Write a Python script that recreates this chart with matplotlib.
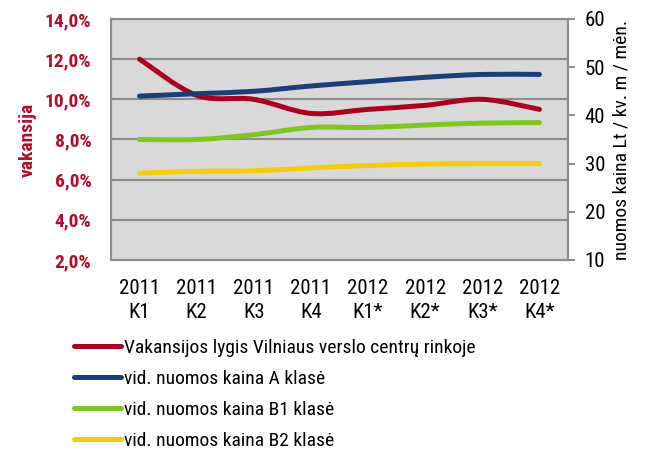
import matplotlib.pyplot as plt
import numpy as np
from matplotlib.path import Path
from matplotlib.patches import PathPatch
from matplotlib.lines import Line2D
from matplotlib import font_manager

years = ["2011", "2011", "2011", "2011", "2012", "2012", "2012", "2012"]
quarters = ["K1", "K2", "K3", "K4", "K1*", "K2*", "K3*", "K4*"]

vacancy = [12.0, 10.2, 10.0, 9.3, 9.5, 9.7, 10.0, 9.5]     # %, left axis
rent_a = [44.0, 44.5, 45.0, 46.1, 47.0, 47.9, 48.5, 48.5]  # Lt/kv.m, right axis
rent_b1 = [35.0, 35.0, 36.0, 37.5, 37.5, 38.0, 38.4, 38.5]
rent_b2 = [28.0, 28.4, 28.5, 29.1, 29.6, 29.9, 30.0, 30.0]

labels = ["Vakansijos lygis Vilniaus verslo centrų rinkoje",
          "vid. nuomos kaina A klasė",
          "vid. nuomos kaina B1 klasė",
          "vid. nuomos kaina B2 klasė"]
colors = ["#AA0022", "#1B3D7A", "#7DC623", "#F5CC0A"]

RED = "#B0102A"
LW = 3.6

# pick a narrow face (Arial Narrow look-alike) from what is installed
faces = {(f.name, int(f.weight) if str(f.weight).isdigit() else 400)
         for f in font_manager.fontManager.ttflist if f.style == "normal"}
cands = ["Arial Narrow", "Liberation Sans Narrow", "Nimbus Sans Narrow",
         "Roboto Condensed", "Archivo Narrow", "Asap Condensed"]
REG = next((c for c in cands if (c, 400) in faces), "DejaVu Sans")
BOLD = next((c for c in cands if (c, 700) in faces), "DejaVu Sans")


def smooth_patch(ax, xs, ys, color):
    # Excel-like smoothed line: cubic bezier through the points
    pts = np.column_stack([xs, ys]).astype(float)
    n = len(pts)
    verts = [pts[0]]
    codes = [Path.MOVETO]
    for i in range(n - 1):
        p0 = pts[max(i - 1, 0)]
        p1 = pts[i]
        p2 = pts[i + 1]
        p3 = pts[min(i + 2, n - 1)]
        verts += [p1 + (p2 - p0) / 6, p2 - (p3 - p1) / 6, p2]
        codes += [Path.CURVE4] * 3
    patch = PathPatch(Path(verts, codes), facecolor="none", edgecolor=color,
                      lw=LW, capstyle="round", joinstyle="round", zorder=3)
    ax.add_patch(patch)


fig = plt.figure(figsize=(6.49, 4.54), dpi=100)
ax = fig.add_axes([111 / 649, 1 - 260 / 454, 457 / 649, 241 / 454])
ax2 = ax.twinx()

x = np.arange(len(quarters))

ax.set_facecolor("#D9D9D9")
ax.set_xlim(-0.5, len(quarters) - 0.5)
ax.set_ylim(2, 14)
ax.set_yticks(np.arange(2, 15, 2))
ax.set_yticklabels([f"{v:.1f}%".replace(".", ",") for v in np.arange(2, 15, 2)],
                   color=RED, fontweight="bold", fontsize=14, family=BOLD)
ax.grid(axis="y", color="#8C8C8C", lw=1.5)
ax.set_axisbelow(True)
ax.tick_params(axis="y", length=0, pad=14)
ax.set_xticks(x)
ax.set_xticklabels([f"{y}\n{q}" for y, q in zip(years, quarters)],
                   linespacing=1.3, family=REG, fontsize=15)
ax.tick_params(axis="x", length=0, pad=14)
ax.set_ylabel("vakansija", color=RED, fontweight="bold", fontsize=14,
              family=BOLD, labelpad=6)

ax2.set_ylim(10, 60)
ax2.set_yticks(np.arange(10, 61, 10))
ax2.tick_params(axis="y", length=5, color="#8C8C8C", width=1.5, pad=7)
for t in ax2.get_yticklabels():
    t.set(family=REG, fontsize=15)
ax2.set_ylabel("nuomos kaina Lt / kv. m / mėn.", labelpad=5, family=REG, fontsize=14)

for a in (ax, ax2):
    for s in a.spines.values():
        s.set_color("#8C8C8C")
        s.set_linewidth(1.5)

smooth_patch(ax, x, vacancy, colors[0])
smooth_patch(ax2, x, rent_a, colors[1])
smooth_patch(ax2, x, rent_b1, colors[2])
smooth_patch(ax2, x, rent_b2, colors[3])

handles = [Line2D([], [], color=c, lw=LW, solid_capstyle="round") for c in colors]
fig.legend(handles, labels, loc="upper left", bbox_to_anchor=(74 / 649, 1 - 339 / 454),
           frameon=False, prop={"family": REG, "size": 14}, borderaxespad=0,
           handlelength=2.4, handletextpad=0.15, labelspacing=0.66, borderpad=0)

fig.savefig("out.png", dpi=100)
